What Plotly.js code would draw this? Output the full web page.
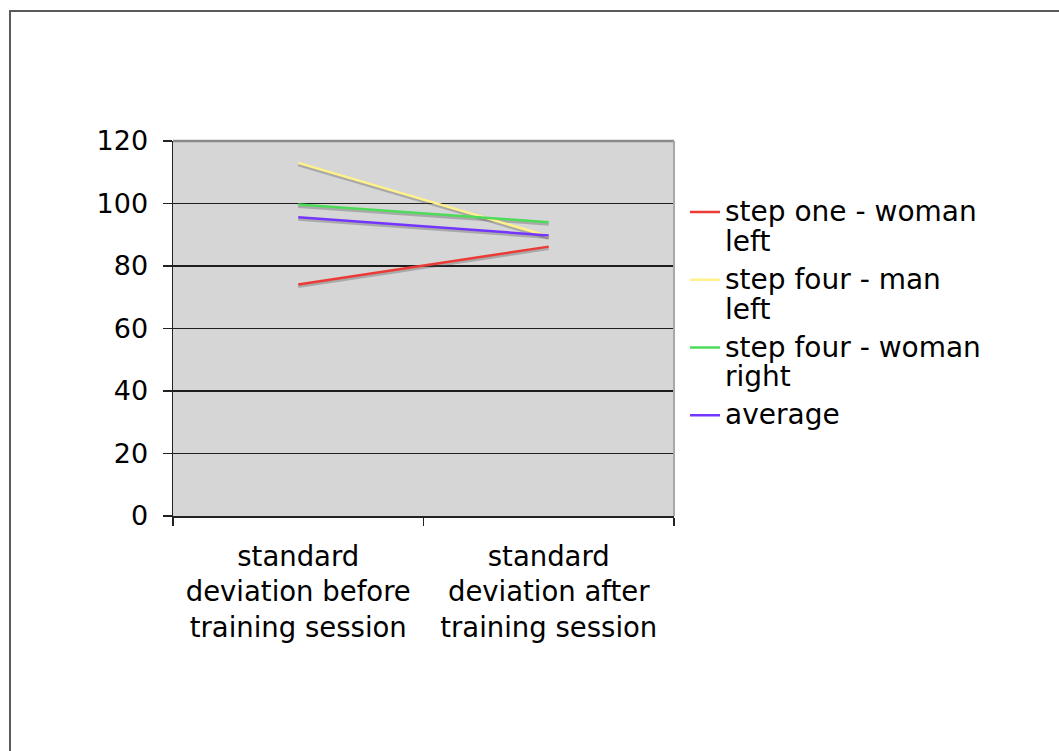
<!DOCTYPE html>
<html>
<head>
<meta charset="utf-8">
<script src="https://cdn.plot.ly/plotly-3.0.1.min.js"></script>
<style>
  html, body { margin: 0; padding: 0; background: #fff; }
  #chart { width: 1059px; height: 751px; }
  #frame { position: absolute; left: 9px; top: 10px; width: 1200px; height: 900px;
           border-left: 2px solid #5a5a5a; border-top: 2px solid #5a5a5a; pointer-events: none; }
</style>
</head>
<body>
<div id="chart"></div>
<div id="frame"></div>
<script>
const categories = [
  "standard<br>deviation before<br>training session",
  "standard<br>deviation after<br>training session"
];
const seriesNames = [
  "step one - woman<br>left",
  "step four - man<br>left",
  "step four - woman<br>right",
  "average"
];
const stepOneWomanLeft = [74.1, 86.2];
const stepFourManLeft = [113.0, 89.5];
const stepFourWomanRight = [99.7, 94.0];
const average = [95.6, 89.8];
const seriesValues = [stepOneWomanLeft, stepFourManLeft, stepFourWomanRight, average];
const seriesColors = ["#ec3b36", "#fff28a", "#4edb5a", "#7436ff"];
const yTicks = [0, 20, 40, 60, 80, 100, 120];

const FONT = "DejaVu Sans, Verdana, sans-serif";
const LEG_SPAN = '<span style="font-size:28px">';
const traces = [];
// shadows: on the main (hidden) y scale, offset by a couple of pixels
seriesValues.forEach((vals, i) => {
  traces.push({
    x: categories, y: vals, type: "scatter", mode: "lines",
    yaxis: "y", showlegend: false, hoverinfo: "skip",
    line: { color: "rgba(80,80,80,0.33)", width: 3 }
  });
});
seriesValues.forEach((vals, i) => {
  traces.push({
    x: categories, y: vals, type: "scatter", mode: "lines",
    yaxis: "y2", legendgroup: "g" + i,
    name: LEG_SPAN + seriesNames[i].split("<br>").join("</span><br>" + LEG_SPAN) + "</span>",
    line: { color: seriesColors[i], width: 2.5 }
  });
});

const layout = {
  width: 1059, height: 751,
  margin: { l: 173, r: 385, t: 141, b: 235 },
  paper_bgcolor: "#ffffff",
  plot_bgcolor: "#d6d6d6",
  font: { family: FONT, color: "#000" },
  showlegend: true,
  legend: {
    x: 1.022, xanchor: "left", y: 0.868, yanchor: "top",
    font: { family: FONT, size: 23, color: "#000" },
    bgcolor: "rgba(0,0,0,0)", borderwidth: 0,
    valign: "top", tracegroupgap: 5
  },
  xaxis: {
    type: "category", range: [-0.5, 1.5],
    showgrid: false, zeroline: false,
    showline: true, linecolor: "#222", linewidth: 1.5,
    ticks: "outside", tickson: "boundaries", ticklen: 8, tickcolor: "#222", tickwidth: 1.5,
    tickfont: { family: FONT, size: 27.5, color: "#000" },
    ticklabelstandoff: 15,
    fixedrange: true
  },
  yaxis: {
    range: [0.64, 120.64],
    showgrid: false, zeroline: false, showline: false,
    showticklabels: false, ticks: "",
    fixedrange: true
  },
  yaxis2: {
    overlaying: "y", side: "left",
    range: [0, 120], tickvals: yTicks, ticktext: yTicks.map(String),
    showgrid: true, gridcolor: "#1e1e1e", gridwidth: 1.3,
    zeroline: false,
    showline: true, linecolor: "#222", linewidth: 1.5,
    ticks: "outside", ticklen: 9, tickcolor: "#222", tickwidth: 1.5,
    tickfont: { family: FONT, size: 27, color: "#000" },
    ticklabelstandoff: 9,
    fixedrange: true
  },
  shapes: [
    { type: "line", xref: "paper", yref: "paper", x0: 0, x1: 1, y0: 1, y1: 1,
      line: { color: "#8a8a8a", width: 2.5 } },
    { type: "line", xref: "paper", yref: "paper", x0: 1, x1: 1, y0: 0, y1: 1,
      line: { color: "#a8a8a8", width: 2 } }
  ]
};

Plotly.newPlot("chart", traces, layout, { staticPlot: true, displayModeBar: false });
</script>
</body>
</html>
